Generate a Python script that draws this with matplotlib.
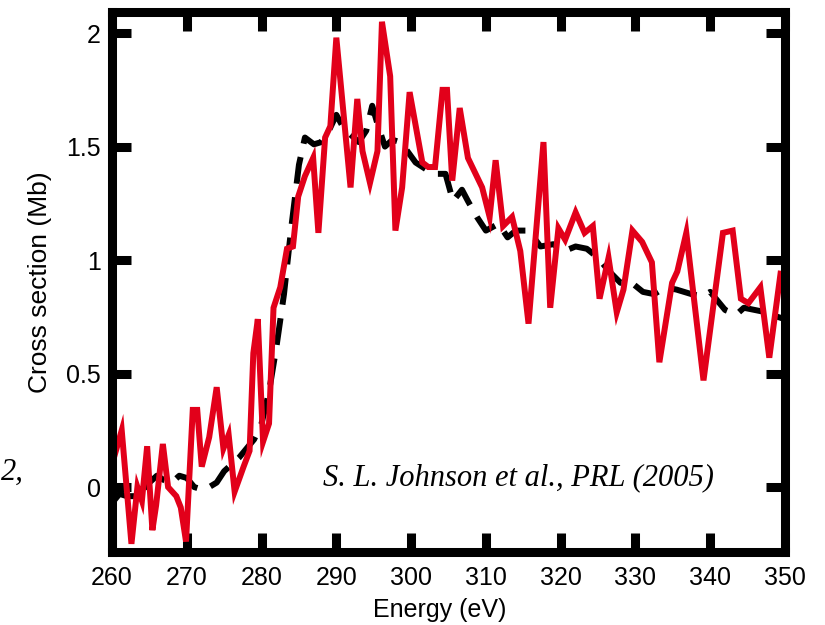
import matplotlib
matplotlib.use("Agg")
import matplotlib.pyplot as plt

# Measured photoabsorption cross section (red, noisy)
energy_exp = [260.0, 261.3, 262.6, 263.4, 264.0, 264.7, 265.4, 265.9, 266.8, 267.5,
              268.6, 269.2, 269.9, 270.8, 271.4, 272.0, 273.0, 274.0, 274.9, 275.6,
              276.4, 277.6, 278.4, 278.9, 279.5, 280.2, 281.0, 281.6, 282.5, 283.4,
              284.2, 284.9, 285.8, 286.9, 287.6, 288.5, 289.2, 290.0, 291.9, 292.8,
              293.5, 294.5, 295.5, 296.1, 297.2, 297.9, 298.8, 299.8, 301.5, 302.3,
              303.2, 304.2, 304.8, 305.5, 306.5, 307.6, 309.5, 310.5, 311.3, 312.3,
              313.5, 314.6, 315.7, 317.7, 318.6, 319.7, 320.6, 322.0, 323.2, 324.3,
              325.2, 326.4, 327.5, 328.4, 329.6, 330.9, 332.2, 333.2, 334.9, 335.6,
              336.8, 339.1, 341.7, 343.0, 344.1, 345.1, 346.7, 347.9, 349.4]
sigma_exp = [0.10, 0.25, -0.25, 0.00, -0.06, 0.18, -0.19, -0.08, 0.19, 0.00,
             -0.04, -0.09, -0.24, 0.34, 0.34, 0.09, 0.22, 0.44, 0.17, 0.23,
             -0.02, 0.09, 0.16, 0.59, 0.74, 0.20, 0.28, 0.79, 0.88, 1.05,
             1.06, 1.28, 1.37, 1.45, 1.12, 1.54, 1.59, 1.98, 1.32, 1.71,
             1.48, 1.34, 1.48, 2.05, 1.81, 1.13, 1.32, 1.74, 1.43, 1.41,
             1.41, 1.75, 1.75, 1.35, 1.67, 1.45, 1.32, 1.19, 1.44, 1.15,
             1.19, 1.04, 0.72, 1.52, 0.79, 1.14, 1.09, 1.21, 1.12, 1.15,
             0.83, 1.01, 0.77, 0.87, 1.13, 1.08, 0.99, 0.55, 0.90, 0.95,
             1.12, 0.47, 1.12, 1.13, 0.83, 0.81, 0.88, 0.57, 0.94]

# Calculated cross section (black, dashed)
energy_calc = [260.0, 261.0, 262.0, 263.0, 264.0, 265.0, 266.0, 267.0, 268.0, 269.0,
               270.0, 271.0, 272.0, 273.0, 274.0, 275.0, 276.0, 277.0, 278.0, 279.0,
               280.0, 281.0, 282.0, 283.0, 284.0, 285.0, 285.8, 287.0, 288.0, 289.0,
               290.0, 291.0, 292.0, 293.0, 294.0, 294.8, 295.5, 296.5, 297.5, 298.5,
               299.5, 300.6, 302.0, 303.0, 304.6, 305.6, 306.8, 307.6, 308.8, 310.0,
               311.7, 312.9, 314.0, 315.7, 317.3, 319.0, 320.5, 322.0, 323.5, 325.0,
               326.5, 328.0, 329.5, 331.0, 332.5, 334.0, 335.5, 337.5, 339.0, 340.0,
               341.0, 342.0, 343.5, 344.5, 346.0, 347.5, 349.0, 350.0]
sigma_calc = [-0.07, -0.03, -0.04, -0.04, -0.03, 0.02, 0.05, 0.03, 0.02, 0.05,
              0.04, 0.00, -0.01, 0.00, 0.02, 0.07, 0.10, 0.13, 0.17, 0.21,
              0.28, 0.42, 0.62, 0.85, 1.15, 1.42, 1.54, 1.51, 1.52, 1.57,
              1.64, 1.58, 1.55, 1.52, 1.57, 1.68, 1.60, 1.50, 1.53, 1.52,
              1.48, 1.43, 1.40, 1.38, 1.38, 1.26, 1.31, 1.26, 1.19, 1.13,
              1.16, 1.10, 1.13, 1.13, 1.06, 1.07, 1.04, 1.06, 1.05, 1.01,
              0.95, 0.90, 0.90, 0.86, 0.85, 0.88, 0.87, 0.85, 0.84, 0.86,
              0.82, 0.78, 0.76, 0.79, 0.78, 0.77, 0.75, 0.74]

x_ticks = [260, 270, 280, 290, 300, 310, 320, 330, 340, 350]
y_ticks = [0, 0.5, 1, 1.5, 2]
y_tick_labels = ["0", "0.5", "1", "1.5", "2"]

plt.rcParams["font.family"] = ["Liberation Sans", "DejaVu Sans"]

fig = plt.figure(figsize=(8.25, 6.25), dpi=100)
ax = fig.add_axes([112 / 825, 1 - 552 / 625, (785 - 112) / 825, (552 - 12) / 625])

ax.plot(energy_calc, sigma_calc, color="black", lw=4.3,
        linestyle=(0, (4.5, 2.3)), dash_capstyle="butt", zorder=2)
ax.plot(energy_exp, sigma_exp, color="#e2001a", lw=4.3,
        solid_joinstyle="miter", zorder=3, clip_on=False)

ax.set_xlim(260, 350)
ax.set_ylim(-0.286, 2.093)
ax.set_xticks(x_ticks)
ax.set_yticks(y_ticks)
ax.set_yticklabels(y_tick_labels)

for sp in ax.spines.values():
    sp.set_linewidth(6.5)
    sp.set_zorder(5)

ax.tick_params(axis="both", which="major", direction="in", length=14,
               width=6.5, labelsize=18, top=True, right=True)
ax.tick_params(axis="y", pad=8)
ax.tick_params(axis="x", pad=10)

ax.set_xlabel("Energy (eV)", fontsize=18)
ax.xaxis.set_label_coords(0.487, -0.085)
ax.set_ylabel("Cross section (Mb)", fontsize=19, labelpad=10)

ax.text(288.2, 0.01, "S. L. Johnson et al., PRL (2005)",
        family="Liberation Serif", style="italic", fontsize=22,
        ha="left", va="baseline", zorder=4)

fig.text(1 / 825, 1 - 480 / 625, "2,", family="Liberation Serif",
         style="italic", fontsize=22, ha="left", va="baseline")

fig.savefig("out.png", dpi=100)
